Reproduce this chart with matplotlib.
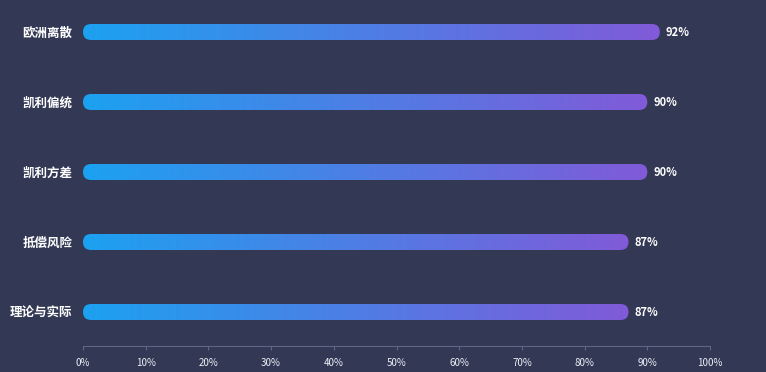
import numpy as np
import matplotlib
matplotlib.use('Agg')
import matplotlib.pyplot as plt
from matplotlib.patches import FancyBboxPatch
from matplotlib.colors import LinearSegmentedColormap

plt.rcParams['font.family'] = ['Noto Sans CJK SC', 'DejaVu Sans']

categories = ['欧洲离散', '凯利偏统', '凯利方差', '抵偿风险', '理论与实际']
values = [92, 90, 90, 87, 87]
xticks = [0, 10, 20, 30, 40, 50, 60, 70, 80, 90, 100]

bg = '#333955'
cmap = LinearSegmentedColormap.from_list('bar', ['#1ca1f1', '#815ad8'])

W, H = 766, 372
fig = plt.figure(figsize=(W / 100, H / 100), dpi=100, facecolor=bg)
# axes: x from px 83 to 710, y from top 0 to axis line at 346
ax = fig.add_axes([83 / W, (H - 346) / H, (710 - 83) / W, 346 / H], facecolor=bg)

row_px = 70
first_px = 32
ax.set_xlim(0, 100)
ax.set_ylim((346 - first_px) / row_px, -first_px / row_px)

bar_h = 16 / row_px
x_per_px = 100 / 627
y_per_px = 1 / row_px
r = 8 * x_per_px
grad = np.linspace(0, 1, 256).reshape(1, -1)

for i, (cat, v) in enumerate(zip(categories, values)):
    patch = FancyBboxPatch((0, i - bar_h / 2), v, bar_h,
                           boxstyle=f'round,pad=0,rounding_size={r}',
                           mutation_aspect=y_per_px / x_per_px,
                           facecolor='none', edgecolor='none')
    ax.add_patch(patch)
    im = ax.imshow(grad, cmap=cmap, aspect='auto',
                   extent=[0, v, i + bar_h / 2, i - bar_h / 2],
                   interpolation='bilinear')
    im.set_clip_path(patch)
    ax.text(v + 6 * x_per_px, i, f'{v}%', color='white', fontsize=8,
            fontweight='bold', va='center', ha='left')

ax.set_xlim(0, 100)
ax.set_ylim((346 - first_px) / row_px, -first_px / row_px)

ax.set_yticks(range(len(categories)))
ax.set_yticklabels(categories, color='white', fontsize=9, fontweight='bold')
ax.tick_params(axis='y', length=0, pad=7.5)

ax.set_xticks(xticks)
ax.set_xticklabels([f'{t}%' for t in xticks], color='#eef0f6', fontsize=7)
ax.tick_params(axis='x', length=3, color='#5f6584', pad=6)

for s in ['top', 'right', 'left']:
    ax.spines[s].set_visible(False)
ax.spines['bottom'].set_color('#5f6584')

fig.savefig('out.png', dpi=100, facecolor=bg)
